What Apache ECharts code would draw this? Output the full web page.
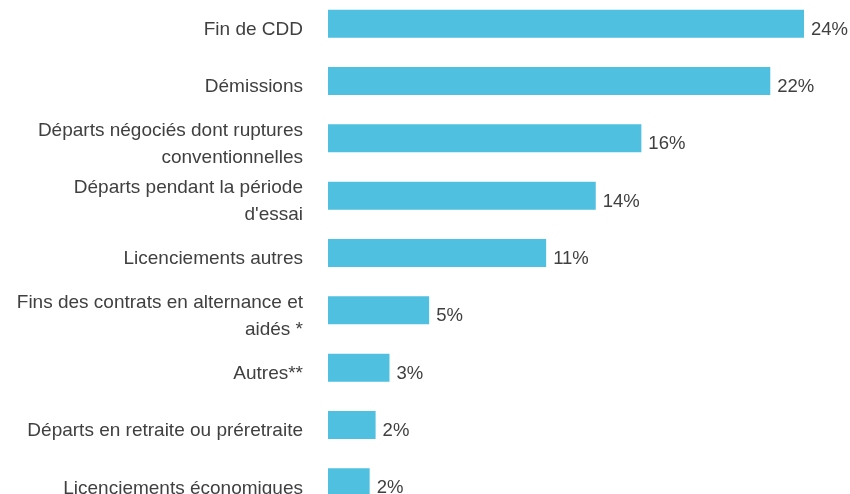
<!DOCTYPE html>
<html>
<head>
<meta charset="utf-8">
<script src="https://cdn.jsdelivr.net/npm/echarts@6/dist/echarts.min.js"></script>
<style>
  html, body { margin: 0; padding: 0; background: #fff; overflow: hidden; }
  /* le graphique dépasse un peu en haut et en bas, comme sur l'original */
  #chart { position: absolute; left: 0; top: -5px; width: 850px; height: 522px; }
</style>
</head>
<body>
<div id="chart"></div>
<script>
// catégories (de haut en bas)
var categories = [
  'Fin de CDD',
  'Démissions',
  'Départs négociés dont ruptures\nconventionnelles',
  'Départs pendant la période\nd\'essai',
  'Licenciements autres',
  'Fins des contrats en alternance et\naidés *',
  'Autres**',
  'Départs en retraite ou préretraite',
  'Licenciements économiques'
];
// parts en %
var values = [24.0, 22.3, 15.8, 13.5, 11.0, 5.1, 3.1, 2.4, 2.1];

var textFont = 'Liberation Sans, Arial, sans-serif';
var chart = echarts.init(document.getElementById('chart'));
var option = {
  animation: false,
  grid: [
    // barres
    { left: 328, right: 46, top: 0, bottom: 6 },
    // libellés, décalés de 6px vers le bas
    { left: 328, right: 46, top: 6, bottom: 0 }
  ],
  xAxis: [
    { type: 'value', gridIndex: 0, min: 0, max: 24, show: false },
    { type: 'value', gridIndex: 1, min: 0, max: 24, show: false }
  ],
  yAxis: [
    {
      type: 'category',
      gridIndex: 0,
      data: categories,
      inverse: true,
      axisLine: { show: false },
      axisTick: { show: false },
      axisLabel: { show: false }
    },
    {
      type: 'category',
      gridIndex: 1,
      data: categories,
      inverse: true,
      axisLine: { show: false },
      axisTick: { show: false },
      axisLabel: {
        margin: 25,
        color: '#404040',
        fontSize: 19,
        fontFamily: textFont,
        lineHeight: 27
      }
    }
  ],
  series: [{
    type: 'bar',
    xAxisIndex: 0,
    yAxisIndex: 0,
    data: values,
    barWidth: 28,
    itemStyle: {
      color: '#4fc0e0'
    },
    label: {
      show: true,
      position: 'right',
      distance: 7,
      offset: [0, 6],
      color: '#404040',
      fontSize: 18.5,
      fontFamily: textFont,
      formatter: function (p) {
        return Math.round(p.value) + '%';
      }
    }
  }]
};
chart.setOption(option);
</script>
</body>
</html>
